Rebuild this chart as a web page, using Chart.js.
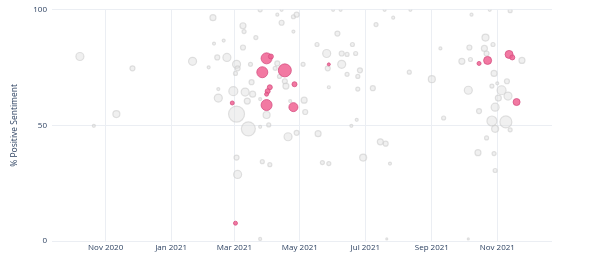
<!DOCTYPE html>
<html>
<head>
<meta charset="utf-8">
<script src="https://cdn.jsdelivr.net/npm/chart.js@4.4.1/dist/chart.umd.min.js"></script>
<style>
  html, body { margin:0; padding:0; background:#fff; }
  #wrap { width:600px; height:260px; position:relative; }
</style>
</head>
<body>
<div id="wrap"><canvas id="chart"></canvas></div>
<script>
// axis
const xMin = '2020-09-12';
const xMax = '2021-12-22';
const tickDates  = ['2020-11-01','2021-01-01','2021-03-01','2021-05-01','2021-07-01','2021-09-01','2021-11-01'];
const tickLabels = ['Nov 2020','Jan 2021','Mar 2021','May 2021','Jul 2021','Sep 2021','Nov 2021'];
const yTicks = [0, 50, 100];

// grey bubbles (all other items)
const otherDates = [
  '2020-10-08','2020-10-21','2020-11-11','2020-11-26','2021-01-21','2021-02-09','2021-03-25','2021-03-09','2021-03-10','2021-03-21',
  '2021-04-14','2021-04-10','2021-04-25','2021-04-28','2021-04-14','2021-02-10','2021-02-19','2021-03-09','2021-02-05','2021-02-13',
  '2021-02-22','2021-03-03','2021-03-04','2021-03-16','2021-03-02','2021-03-17','2021-02-28','2021-03-11','2021-03-18','2021-03-13',
  '2021-02-14','2021-02-14','2021-03-25','2021-03-03','2021-03-31','2021-03-14','2021-03-25','2021-04-02','2021-04-20','2021-04-28',
  '2021-03-03','2021-03-04','2021-03-27','2021-04-03','2021-04-08','2021-04-10','2021-04-17','2021-04-18','2021-04-12','2021-04-22',
  '2021-04-25','2021-05-04','2021-05-05','2021-05-06','2021-05-18','2021-05-17','2021-05-26','2021-05-27','2021-05-28','2021-06-05',
  '2021-06-09','2021-06-14','2021-06-09','2021-06-14','2021-06-19','2021-06-22','2021-06-26','2021-06-24','2021-06-24','2021-07-08',
  '2021-07-11','2021-06-01','2021-06-08','2021-06-23','2021-06-18','2021-05-22','2021-05-28','2021-06-29','2021-07-15','2021-07-20',
  '2021-07-19','2021-07-27','2021-08-12','2021-10-08','2021-10-25','2021-11-13','2021-10-21','2021-10-06','2021-10-20','2021-10-28',
  '2021-10-22','2021-09-09','2021-09-29','2021-10-07','2021-11-24','2021-08-11','2021-10-29','2021-09-01','2021-11-01','2021-11-10',
  '2021-10-05','2021-10-27','2021-11-05','2021-11-02','2021-11-11','2021-10-30','2021-10-15','2021-09-12','2021-10-27','2021-11-09',
  '2021-10-30','2021-11-13','2021-10-22','2021-10-14','2021-10-29','2021-10-30','2021-07-24','2021-10-05','2021-07-21','2021-03-25'
];
const otherScores = [
  79.8, 49.8, 54.9, 74.7, 77.7, 96.6, 100, 93.1, 90.6, 88.0,
  94.4, 97.9, 97.0, 97.9, 100, 85.4, 86.7, 83.7, 75.1, 79.4,
  79.4, 76.4, 74.7, 76.4, 72.5, 68.7, 64.8, 64.4, 63.5, 60.5,
  61.8, 65.7, 61.4, 54.9, 54.5, 48.5, 49.4, 50.2, 45.1, 46.8,
  36.1, 28.8, 34.3, 33.0, 74.7, 76.8, 69.1, 67.0, 71.2, 60.5,
  90.6, 76.4, 60.9, 55.8, 46.4, 85.0, 81.1, 74.7, 66.5, 89.7,
  81.1, 80.7, 76.4, 72.1, 85.0, 81.1, 73.8, 71.2, 65.7, 66.1,
  93.6, 100, 100, 52.4, 49.8, 33.9, 33.5, 36.1, 42.9, 42.1,
  100, 96.6, 100, 97.9, 100, 99.6, 88.0, 83.7, 83.3, 85.0,
  81.1, 83.3, 77.7, 78.5, 78.1, 73.0, 72.5, 70.0, 68.2, 69.1,
  65.2, 67.0, 65.2, 61.8, 62.7, 57.9, 56.2, 53.2, 51.9, 51.5,
  48.5, 48.1, 44.6, 38.2, 37.8, 30.5, 33.5, 0.9, 0.9, 0.9
];
const otherMentions = [
  64, 9, 49, 25, 64, 36, 16, 36, 16, 16,
  25, 9, 16, 25, 9, 9, 9, 25, 9, 25,
  64, 64, 25, 16, 16, 25, 81, 64, 36, 36,
  64, 9, 9, 256, 49, 196, 9, 16, 64, 25,
  25, 64, 16, 16, 16, 25, 25, 36, 16, 9,
  9, 16, 36, 25, 36, 16, 64, 25, 9, 25,
  25, 16, 64, 16, 16, 16, 25, 16, 16, 25,
  16, 9, 9, 9, 9, 16, 16, 49, 36, 25,
  9, 9, 9, 9, 9, 16, 49, 25, 36, 16,
  25, 9, 36, 16, 36, 16, 36, 49, 9, 25,
  64, 16, 81, 36, 64, 64, 25, 16, 100, 144,
  49, 16, 16, 36, 16, 16, 9, 4, 4, 9
];

// pink bubbles (highlighted items)
const keyDates = [
  '2021-03-31','2021-04-04','2021-03-27','2021-04-17','2021-04-26','2021-04-03','2021-04-01','2021-03-31','2021-03-31','2021-04-25',
  '2021-02-27','2021-03-02','2021-05-28','2021-10-23','2021-10-15','2021-11-12','2021-11-15','2021-11-19'
];
const keyScores = [
  79.0, 79.8, 73.0, 73.8, 67.8, 66.5, 64.8, 63.5, 58.8, 57.9,
  59.7, 7.7, 76.4, 78.1, 76.8, 80.7, 79.4, 60.1
];
const keyMentions = [
  121, 25, 121, 169, 25, 25, 25, 16, 121, 81,
  16, 16, 9, 64, 16, 64, 25, 49
];

function toPoints(dates, scores, mentions) {
  return dates.map((d, i) => ({ x: Date.parse(d), y: scores[i], r: Math.sqrt(mentions[i]) / 2 }));
}

const FONT = { family: '"Open Sans", sans-serif', size: 8 };
const INK = '#2a3f5f';

new Chart(document.getElementById('chart'), {
  type: 'bubble',
  data: {
    datasets: [
      {
        label: 'Highlighted',
        data: toPoints(keyDates, keyScores, keyMentions),
        backgroundColor: 'rgba(240, 98, 146, 0.85)',
        borderColor: 'rgba(214, 80, 130, 0.8)',
        borderWidth: 1,
        clip: 0,
        order: 0
      },
      {
        label: 'Other',
        data: toPoints(otherDates, otherScores, otherMentions),
        backgroundColor: 'rgba(222, 222, 222, 0.45)',
        borderColor: 'rgba(205, 205, 205, 0.6)',
        borderWidth: 1.2,
        clip: 0,
        order: 1
      }
    ]
  },
  options: {
    responsive: true,
    maintainAspectRatio: false,
    animation: false,
    layout: { padding: { top: 8, right: 48, left: 0, bottom: 0 } },
    plugins: { legend: { display: false }, tooltip: { enabled: false } },
    elements: { point: { hoverRadius: 0 } },
    scales: {
      x: {
        type: 'linear',
        min: Date.parse(xMin),
        max: Date.parse(xMax),
        afterBuildTicks: s => { s.ticks = tickDates.map(d => ({ value: Date.parse(d) })); },
        afterFit: s => { s.height = 19; },
        ticks: {
          autoSkip: false, maxRotation: 0, padding: 2,
          font: FONT, color: INK,
          callback: (v, i) => tickLabels[i]
        },
        grid: { color: '#ebeef3', drawTicks: false, lineWidth: 1 },
        border: { display: false }
      },
      y: {
        min: 0, max: 100,
        afterBuildTicks: s => { s.ticks = yTicks.map(v => ({ value: v })); },
        afterFit: s => { s.width = 52; },
        ticks: { font: FONT, color: INK, padding: 5 },
        grid: { color: '#ebeef3', drawTicks: false, lineWidth: 1 },
        border: { display: false },
        title: { display: true, text: '% Positive Sentiment', font: { family: '"Open Sans", sans-serif', size: 8.5 }, color: INK, padding: { top: 9, bottom: 0 } }
      }
    }
  }
});
</script>
</body>
</html>
